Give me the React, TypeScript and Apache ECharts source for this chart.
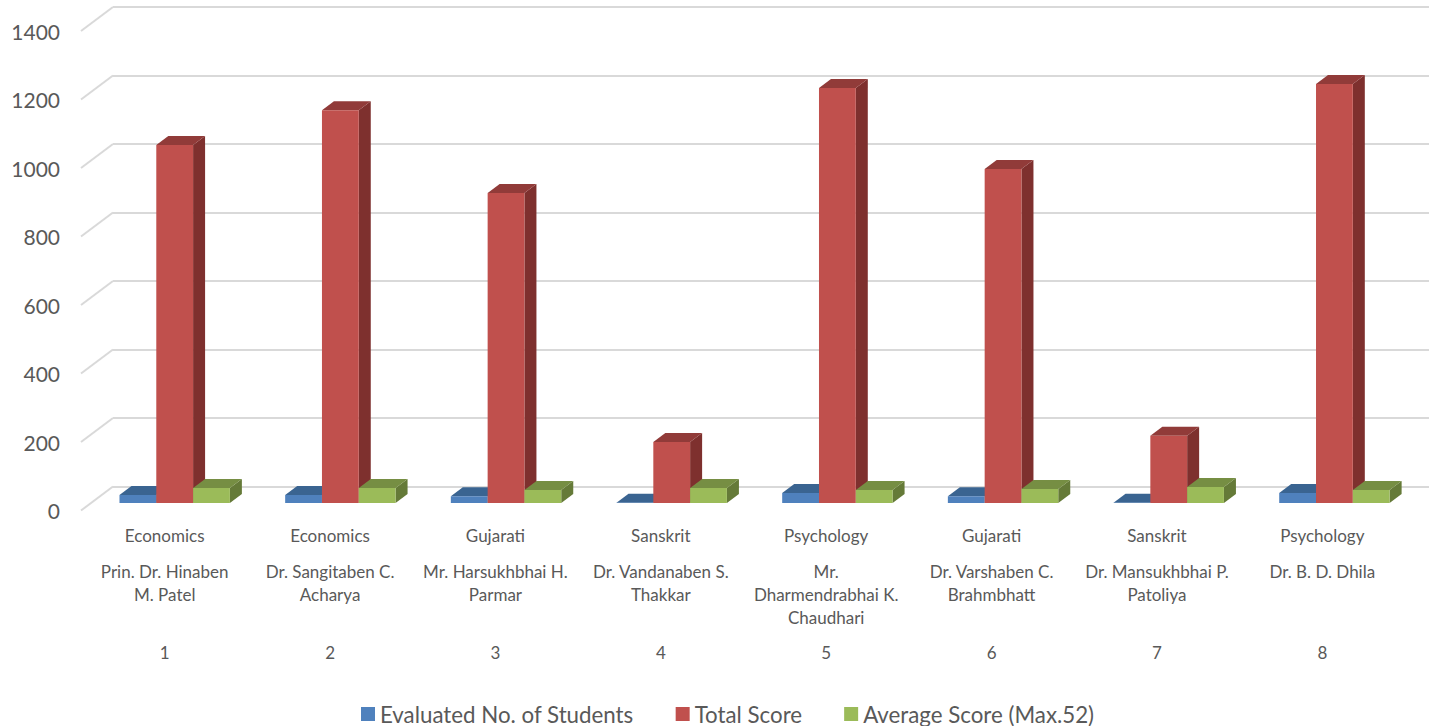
import React, { useEffect, useRef } from "react";
import * as echarts from "echarts";

const subjects = ["Economics", "Economics", "Gujarati", "Sanskrit", "Psychology", "Gujarati", "Sanskrit", "Psychology"];
const teachers = [
  "Prin. Dr. Hinaben\nM. Patel",
  "Dr. Sangitaben C.\nAcharya",
  "Mr. Harsukhbhai H.\nParmar",
  "Dr. Vandanaben S.\nThakkar",
  "Mr.\nDharmendrabhai K.\nChaudhari",
  "Dr. Varshaben C.\nBrahmbhatt",
  "Dr. Mansukhbhai P.\nPatoliya",
  "Dr. B. D. Dhila",
];
const serials = ["1", "2", "3", "4", "5", "6", "7", "8"];
const evaluatedStudents = [23, 23, 20, 1, 29, 20, 1, 29];
const totalScore = [1045, 1147, 905, 178, 1212, 975, 196, 1223];
const averageScore = [44, 44, 38, 44, 38, 41, 47, 38];
const valueTicks = [0, 200, 400, 600, 800, 1000, 1200, 1400];

const FONT = "Lato, Carlito, Calibri, sans-serif";
const BAR_W = 36.8;
const DEPTH_X = 12;
const DEPTH_Y = 9;
const SHIFT_X = 10;
const SHIFT_PER_CAT = 0.3;
const SHIFT_Y = 7.5;
const WALL_X = 32;
const WALL_Y = 24;

const palette = {
  blue: { front: "#4F81BD", top: "#3A6491", side: "#2F5071" },
  red: { front: "#C0504D", top: "#913B39", side: "#7E302E" },
  green: { front: "#9BBB59", top: "#768E43", side: "#657A38" },
};

function bar3d(slot: number, c: { front: string; top: string; side: string }) {
  return (_params: any, api: any) => {
    const cat = api.value(0);
    const top = api.coord([cat, api.value(1)]);
    const base = api.coord([cat, 0]);
    const x0 = top[0] + SHIFT_X + cat * SHIFT_PER_CAT + (slot - 0.5) * BAR_W;
    const x1 = x0 + BAR_W;
    const y0 = top[1] - SHIFT_Y;
    const y1 = base[1] - SHIFT_Y;
    return {
      type: "group",
      children: [
        {
          type: "polygon",
          shape: { points: [[x1, y0], [x1 + DEPTH_X, y0 - DEPTH_Y], [x1 + DEPTH_X, y1 - DEPTH_Y], [x1, y1]] },
          style: { fill: c.side },
        },
        {
          type: "polygon",
          shape: { points: [[x0, y0], [x0 + DEPTH_X, y0 - DEPTH_Y], [x1 + DEPTH_X, y0 - DEPTH_Y], [x1, y0]] },
          style: { fill: c.top },
        },
        {
          type: "polygon",
          shape: { points: [[x0, y0], [x1, y0], [x1, y1], [x0, y1]] },
          style: { fill: c.front },
        },
      ],
    };
  };
}

function wallDiagonal(params: any, api: any) {
  const p = api.coord([0, api.value(0)]);
  const left = params.coordSys.x;
  return {
    type: "line",
    shape: { x1: left - 1, y1: p[1], x2: left + WALL_X - 1, y2: p[1] - WALL_Y },
    style: { stroke: "#D9D9D9", lineWidth: 2 },
  };
}

function categoryLabel(_v: string, i: number) {
  const lines = teachers[i].split("\n");
  while (lines.length < 3) lines.push(" ");
  return [
    `{a|${subjects[i]}}`,
    ...lines.map((l) => `{b|${l}}`),
    `{c|${serials[i]}}`,
  ].join("\n");
}

export default function App() {
  const ref = useRef<HTMLDivElement>(null);
  useEffect(() => {
    const chart = echarts.init(ref.current!, undefined, { renderer: "svg" });
    const cats = serials;
    const seriesData = (vals: number[]) => vals.map((v, i) => [i, v]);
    chart.setOption({
      animation: false,
      backgroundColor: "#FFFFFF",
      textStyle: { fontFamily: FONT },
      legend: {
        left: 361,
        top: 703,
        icon: "rect",
        itemWidth: 14,
        itemHeight: 14,
        itemGap: 42,
        padding: 0,
        textStyle: { fontFamily: FONT, fontSize: 22.3, color: "#595959" },
        data: ["Evaluated No. of Students", "Total Score", "Average Score (Max.52)"],
      },
      grid: [
        { left: 82, width: 1323, top: 31, height: 479.5 },
        { left: 113, right: 0, top: 7, height: 479.5 },
      ],
      xAxis: [
        {
          type: "category",
          gridIndex: 0,
          data: cats,
          axisLine: { show: false },
          axisTick: { show: false },
          axisLabel: {
            interval: 0,
            margin: 0,
            formatter: categoryLabel,
            color: "#595959",
            fontFamily: FONT,
            rich: {
              a: { fontFamily: FONT, fontSize: 17, color: "#595959", lineHeight: 49 },
              b: { fontFamily: FONT, fontSize: 17, color: "#595959", lineHeight: 23 },
              c: { fontFamily: FONT, fontSize: 17, color: "#595959", lineHeight: 47 },
            },
          },
        },
        { type: "category", gridIndex: 1, data: cats, show: false },
      ],
      yAxis: [
        {
          type: "value",
          gridIndex: 0,
          min: 0,
          max: 1400,
          interval: 200,
          axisLine: { show: false },
          axisTick: { show: false },
          splitLine: { show: false },
          axisLabel: {
            margin: 22,
            fontFamily: FONT,
            fontSize: 21,
            color: "#595959",
            formatter: (v: number) => String(v),
          },
        },
        {
          type: "value",
          gridIndex: 1,
          min: 0,
          max: 1400,
          interval: 200,
          axisLine: { show: false },
          axisTick: { show: false },
          axisLabel: { show: false },
          splitLine: { show: true, lineStyle: { color: "#D9D9D9", width: 2 } },
        },
      ],
      series: [
        {
          type: "custom",
          name: "wall",
          xAxisIndex: 0,
          yAxisIndex: 0,
          silent: true,
          encode: { y: 0 },
          renderItem: wallDiagonal,
          data: valueTicks.map((t) => [t]),
          z: 1,
        },
        {
          type: "custom",
          name: "Evaluated No. of Students",
          xAxisIndex: 0,
          yAxisIndex: 0,
          itemStyle: { color: palette.blue.front },
          encode: { x: 0, y: 1 },
          renderItem: bar3d(-1, palette.blue),
          data: seriesData(evaluatedStudents),
          z: 2,
        },
        {
          type: "custom",
          name: "Total Score",
          xAxisIndex: 0,
          yAxisIndex: 0,
          itemStyle: { color: palette.red.front },
          encode: { x: 0, y: 1 },
          renderItem: bar3d(0, palette.red),
          data: seriesData(totalScore),
          z: 3,
        },
        {
          type: "custom",
          name: "Average Score (Max.52)",
          xAxisIndex: 0,
          yAxisIndex: 0,
          itemStyle: { color: palette.green.front },
          encode: { x: 0, y: 1 },
          renderItem: bar3d(1, palette.green),
          data: seriesData(averageScore),
          z: 4,
        },
      ],
    });
    return () => chart.dispose();
  }, []);
  return (
    <div
      ref={ref}
      style={{ position: "fixed", left: 0, top: 0, width: 1429, height: 726 }}
    />
  );
}
